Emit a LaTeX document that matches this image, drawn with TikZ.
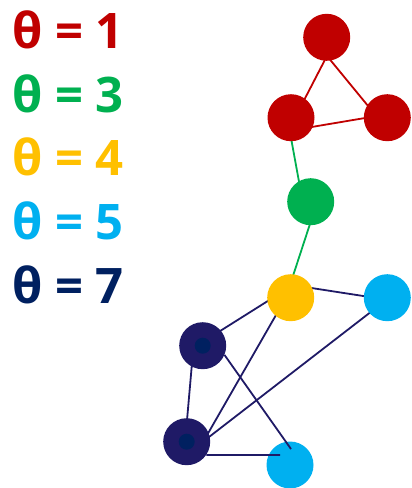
\documentclass[tikz,border=0pt]{standalone}
\usepackage{fontspec}
\setsansfont{Open Sans}
\usepackage{tikz}
\usetikzlibrary{backgrounds}
\definecolor{thred}{HTML}{C00000}
\definecolor{thgreen}{HTML}{00B050}
\definecolor{thyellow}{HTML}{FFC000}
\definecolor{thcyan}{HTML}{00B0F0}
\definecolor{thnavy}{HTML}{002060}
\definecolor{navyout}{HTML}{1F1A66}

\begin{document}
\begin{tikzpicture}[x=1pt,y=-1pt,
    vtx/.style={circle,minimum size=47pt,inner sep=0pt},
    nvy/.style={vtx,fill=navyout,path picture={\fill[thnavy] (path picture bounding box.center) circle (8pt);}},
    lbl/.style={anchor=base west,inner sep=0pt,font=\sffamily\bfseries\fontsize{49}{49}\selectfont},
    lnk/.style={line width=1.8pt}]
  \useasboundingbox (0,0) rectangle (412,488);
  \node[lbl,text=thred] (L1) at (12,48.3) {θ = 1};
  \node[lbl,text=thgreen] (L3) at (12,112) {θ = 3};
  \node[lbl,text=thyellow] (L4) at (12,175.7) {θ = 4};
  \node[lbl,text=thcyan] (L5) at (12,239.4) {θ = 5};
  \node[lbl,text=thnavy] (L7) at (12,303.1) {θ = 7};
  \node[vtx,fill=thred] (R1) at (326.7,37.3) {};
  \node[vtx,fill=thred] (R2) at (291,117.7) {};
  \node[vtx,fill=thred] (R3) at (387.3,117.7) {};
  \node[vtx,fill=thgreen] (G) at (310.7,201.7) {};
  \node[vtx,fill=thyellow] (Y) at (290.7,297.7) {};
  \node[vtx,fill=thcyan] (C1) at (387.3,297.7) {};
  \node[nvy] (N1) at (202.7,345.7) {};
  \node[nvy] (N2) at (186.7,441.7) {};
  \node[vtx,fill=thcyan] (C2) at (290,465) {};
  \begin{scope}[on background layer]
    \path[lnk]
      ([shift={(4.2,11)}]R1.center) edge[thred] ([shift={(7.1,-6)}]R2.center)
      ([shift={(-4.5,12.8)}]R1.center) edge[thred] ([shift={(-7.8,2.2)}]R3.center)
      ([shift={(7.5,11.5)}]R2.center) edge[thred] ([shift={(-9.2,-1.9)}]R3.center)
      ([shift={(-2,9.3)}]R2.center) edge[thgreen] ([shift={(-9,-5.3)}]G.center)
      ([shift={(3.3,10)}]G.center) edge[thgreen] ([shift={(-2.1,-8.4)}]Y.center)
      ([shift={(7.8,-11.7)}]Y.center) edge[navyout] ([shift={(-9.2,0.6)}]C1.center)
      ([shift={(-11.3,-4)}]Y.center) edge[navyout] ([shift={(6.3,-7.7)}]N1.center)
      ([shift={(-8.2,6)}]Y.center) edge[navyout] ([shift={(15.8,1.3)}]N2.center)
      ([shift={(0,1.5)}]C1.center) edge[navyout] ([shift={(13,2.5)}]N2.center)
      ([shift={(-9.7,6)}]N1.center) edge[navyout] ([shift={(-0.7,-10)}]N2.center);
  \end{scope}
  \coordinate (C2a) at (280,455);
  \coordinate (C2b) at (291,449);
  \path[lnk,navyout]
    (N2.-34) edge (C2a)
    (N1.-23) edge (C2b);
\end{tikzpicture}
\end{document}
